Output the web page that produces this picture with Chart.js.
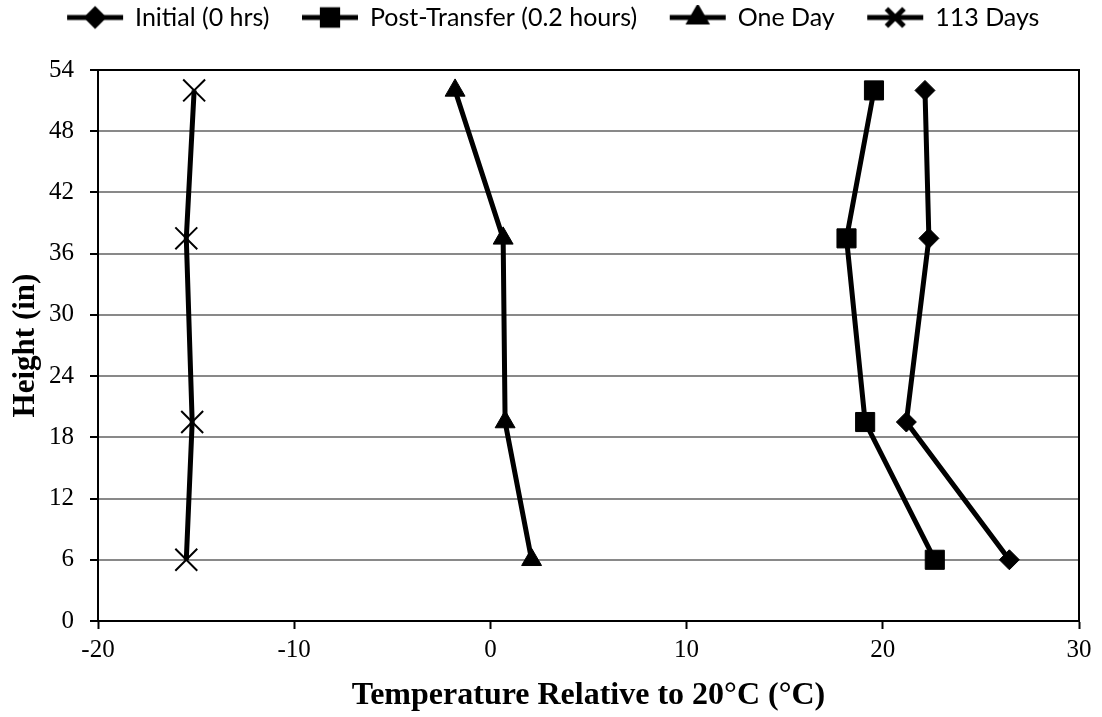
<!DOCTYPE html>
<html>
<head>
<meta charset="utf-8">
<script src="https://cdn.jsdelivr.net/npm/chart.js@4.4.1/dist/chart.umd.min.js"></script>
<style>
  html, body { margin: 0; padding: 0; background: #fff; }
</style>
</head>
<body>
<canvas id="myChart" width="1102" height="717"></canvas>
<script>
// alturas dos pontos de medida (in)
let alturas = [52, 37.5, 19.5, 6]

let nomes = ["Initial (0 hrs)", "Post-Transfer (0.2 hours)", "One Day", "113 Days"]
let inicial = [22.15, 22.35, 21.2, 26.45]
let posTransfer = [19.55, 18.15, 19.1, 22.65]
let umDia = [-1.8, 0.65, 0.75, 2.1]
let dias113 = [-15.1, -15.5, -15.2, -15.5]

let xTicks = [-20, -10, 0, 10, 20, 30]
let yTicks = [0, 6, 12, 18, 24, 30, 36, 42, 48, 54]

let marcadores = [
    { estilo: "rectRot", raio: 10, borda: 1 },
    { estilo: "rect", raio: 13.5, borda: 1 },
    { estilo: "triangle", raio: 11.5, borda: 1 },
    { estilo: "crossRot", raio: 15.5, borda: 2 }
]

chartJS()

function toPontos(valores) {
    let pontos = []
    for (let i = 0; i < valores.length; i++) {
        pontos.push({ x: valores[i], y: alturas[i] })
    }
    return pontos
}

// linha + marcador da legenda; a parte da esquerda fica vazia (espaco entre itens)
function simboloLegenda(m) {
    let c = document.createElement("canvas")
    c.width = 100
    c.height = 26
    let g = c.getContext("2d")
    g.strokeStyle = "#000"
    g.fillStyle = "#000"
    g.lineWidth = 5
    g.beginPath()
    g.moveTo(36, 13)
    g.lineTo(92, 13)
    g.stroke()
    Chart.helpers.drawPoint(g, {
        pointStyle: m.estilo,
        radius: m.raio * 0.8,
        borderWidth: m.borda
    }, 64, 13)
    return c
}

function chartJS() {
    let ctx = document.getElementById("myChart").getContext("2d")
    let series = [inicial, posTransfer, umDia, dias113]
    let datasets = []
    for (let i = 0; i < series.length; i++) {
        datasets.push({
            label: nomes[i],
            data: toPontos(series[i]),
            showLine: true,
            borderColor: "#000",
            backgroundColor: "#000",
            borderWidth: 5,
            pointStyle: marcadores[i].estilo,
            pointRadius: marcadores[i].raio,
            pointBorderWidth: marcadores[i].borda,
            pointBorderColor: "#000",
            pointBackgroundColor: "#000",
            clip: false
        })
    }

    // moldura preta em volta da area do grafico
    let moldura = {
        id: "moldura",
        beforeDatasetsDraw(chart) {
            let a = chart.chartArea
            let g = chart.ctx
            g.save()
            g.strokeStyle = "#000"
            g.lineWidth = 2
            g.strokeRect(a.left, a.top, a.right - a.left, a.bottom - a.top)
            g.restore()
        }
    }

    // espaco entre a legenda e o grafico
    let margemLegenda = {
        id: "margemLegenda",
        beforeInit(chart) {
            let fitOriginal = chart.legend.fit
            chart.legend.fit = function () {
                fitOriginal.bind(chart.legend)()
                this.height = 70
            }
        }
    }

    window.grafico = new Chart(ctx, {
        type: "scatter",
        data: { datasets: datasets },
        plugins: [moldura, margemLegenda],
        options: {
            responsive: false,
            animation: false,
            devicePixelRatio: 1,
            layout: { padding: { top: 0, right: 23, left: 0, bottom: 0 } },
            plugins: {
                tooltip: { enabled: false },
                legend: {
                    position: "top",
                    align: "center",
                    labels: {
                        usePointStyle: true,
                        pointStyleWidth: 83,
                        padding: 5,
                        color: "#000",
                        font: { family: "Lato", size: 25 },
                        generateLabels(chart) {
                            return chart.data.datasets.map((d, i) => ({
                                text: d.label,
                                pointStyle: simboloLegenda(marcadores[i]),
                                fillStyle: "#000",
                                strokeStyle: "#000",
                                lineWidth: 0,
                                fontColor: "#000",
                                datasetIndex: i
                            }))
                        }
                    }
                }
            },
            scales: {
                x: {
                    type: "linear",
                    min: -20,
                    max: 30,
                    afterBuildTicks: s => { s.ticks = xTicks.map(v => ({ value: v })) },
                    afterFit: s => { s.height = 96 },
                    grid: { drawOnChartArea: false, drawTicks: true, tickLength: 8, tickColor: "#000", tickWidth: 2 },
                    border: { color: "#000", width: 2 },
                    ticks: { color: "#000", padding: 6, font: { family: "Liberation Serif", size: 25 } },
                    title: {
                        display: true,
                        text: "Temperature Relative to 20°C (°C)",
                        color: "#000",
                        font: { family: "Liberation Serif", size: 32, weight: "bold" },
                        padding: { top: 2, bottom: 2 }
                    }
                },
                y: {
                    type: "linear",
                    min: 0,
                    max: 54,
                    afterBuildTicks: s => { s.ticks = yTicks.map(v => ({ value: v })) },
                    afterFit: s => { s.width = 98 },
                    grid: { color: "#898989", lineWidth: 2, drawTicks: true, tickLength: 8, tickColor: "#000", tickWidth: 2 },
                    border: { color: "#000", width: 2 },
                    ticks: { color: "#000", padding: 16, font: { family: "Liberation Serif", size: 25 } },
                    title: {
                        display: true,
                        text: "Height (in)",
                        color: "#000",
                        font: { family: "Liberation Serif", size: 31, weight: "bold" },
                        padding: { top: 7, bottom: 7 }
                    }
                }
            }
        }
    })
}
</script>
</body>
</html>
